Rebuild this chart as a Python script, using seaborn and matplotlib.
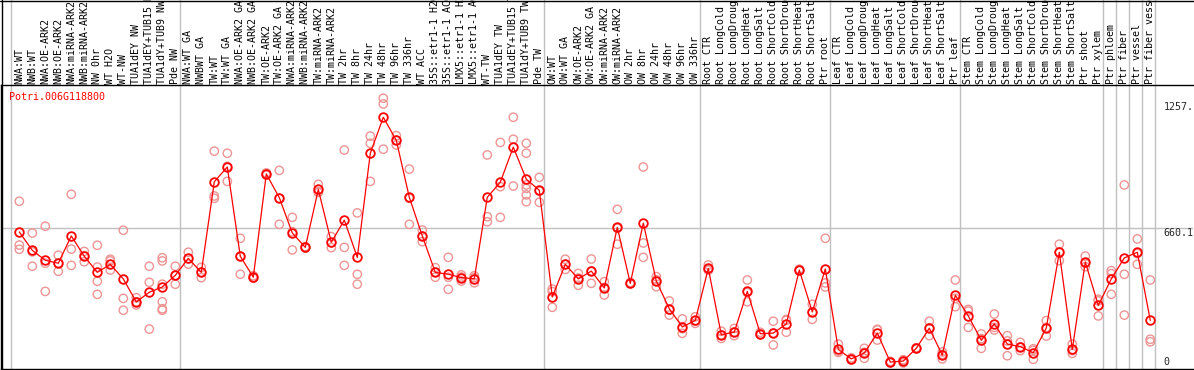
import matplotlib
matplotlib.use('Agg')
import matplotlib.pyplot as plt
import matplotlib.transforms as mtransforms
from matplotlib.lines import Line2D
import seaborn as sns
import pandas as pd

categories = [
    "NWA:WT", "NWB:WT", "NWA:OE-ARK2", "NWB:OE-ARK2", "NWA:miRNA-ARK2", "NWB:miRNA-ARK2",
    "NW 0hr", "WT H2O", "WT-NW", "TUA1dEY NW", "TUA1dEY+TUB15 NW", "TUA1dY+TUB9 NW", "Pde NW",
    "NWA:WT GA", "NWBWT GA", "TW:WT", "TW:WT GA", "NWA:OE-ARK2 GA", "NWB:OE-ARK2 GA",
    "TW:OE-ARK2", "TW:OE-ARK2 GA", "NWA:miRNA-ARK2 GA", "NWB:miRNA-ARK2 GA", "TW:miRNA-ARK2",
    "TW:miRNA-ARK2", "TW 2hr", "TW 8hr", "TW 24hr", "TW 48hr", "TW 96hr", "TW 336hr", "WT ACC",
    "35S::etr1-1 H2O", "35S::etr1-1 ACC", "LMX5::etr1-1 H2O", "LMX5::etr1-1 ACC", "WT-TW",
    "TUA1dEY TW", "TUA1dEY+TUB15 TW", "TUA1dY+TUB9 TW", "Pde TW",
    "OW:WT", "OW:WT GA", "OW:OE-ARK2", "OW:OE-ARK2 GA", "OW:miRNA-ARK2", "OW:miRNA-ARK2",
    "OW 2hr", "OW 8hr", "OW 24hr", "OW 48hr", "OW 96hr", "OW 336hr",
    "Root CTR", "Root LongCold", "Root LongDrought", "Root LongHeat", "Root LongSalt",
    "Root ShortCold", "Root ShortDrought", "Root ShortHeat", "Root ShortSalt", "Ptr root",
    "Leaf CTR", "Leaf LongCold", "Leaf LongDrought", "Leaf LongHeat", "Leaf LongSalt",
    "Leaf ShortCold", "Leaf ShortDrought", "Leaf ShortHeat", "Leaf ShortSalt", "Ptr leaf",
    "Stem CTR", "Stem LongCold", "Stem LongDrought", "Stem LongHeat", "Stem LongSalt",
    "Stem ShortCold", "Stem ShortDrought", "Stem ShortHeat", "Stem ShortSalt", "Ptr shoot",
    "Ptr xylem", "Ptr phloem", "Ptr fiber", "Ptr vessel", "Ptr fiber vessel",
]

means = [
    643, 556, 509, 495, 624, 528, 452, 490, 421, 312, 358, 383, 438,
    518, 452, 880, 950, 528, 429, 917, 805, 638, 570, 844, 594, 699, 523, 1015, 1185,
    1076, 807, 624, 452, 443, 427, 422, 807, 878, 1044, 892, 840,
    336, 490, 421, 458, 378, 665, 400, 685, 411, 280, 194, 225,
    471, 157, 170, 362, 162, 165, 208, 463, 265, 468,
    88, 43, 71, 165, 28, 33, 93, 188, 61, 344,
    246, 131, 209, 113, 101, 72, 189, 547, 88, 501,
    296, 421, 520, 547, 225,
]

replicates = [
    [788, 581, 561], [638, 481, 549], [670, 495, 362], [533, 457, 495], [821, 562, 485],
    [551, 502, 531], [580, 477, 410, 348], [514, 506, 463], [651, 329, 273], [332, 298, 313],
    [481, 405, 184], [521, 506, 396, 313, 280, 273], [481, 396, 437],
    [547, 491, 516], [476, 427, 453], [1025, 813, 802], [1015, 882, 953], [613, 443, 528],
    [436, 425, 426], [922, 912, 917], [934, 679, 802], [712, 558, 644], [574, 568, 568],
    [868, 830, 834], [621, 569, 592], [1030, 570, 485], [733, 443, 396], [1096, 1062, 882],
    [1275, 1248, 1034], [1098, 1054, 1076], [940, 679, 802], [652, 597, 623], [474, 429, 453],
    [523, 429, 372], [440, 411, 430], [436, 403, 427], [1007, 715, 691], [1066, 857, 712],
    [1185, 1081, 860], [1062, 1015, 865, 849, 818, 786], [901, 783, 836],
    [373, 361, 287], [514, 466, 490], [447, 391, 425], [515, 400, 459], [408, 345, 381],
    [750, 585, 660], [404, 398, 398], [950, 591, 523], [432, 384, 417], [317, 274, 250],
    [232, 164, 186], [242, 211, 222],
    [487, 462, 464], [140, 157, 174], [153, 170, 187], [416, 313, 357], [169, 160, 157],
    [221, 109, 165], [230, 169, 225], [467, 461, 461], [301, 230, 264], [613, 402, 383],
    [113, 77, 74], [48, 43, 38], [93, 46, 74], [183, 132, 180], [31, 24, 29],
    [39, 24, 36], [96, 91, 92], [221, 153, 190], [64, 43, 76], [416, 329, 290],
    [277, 192, 269], [161, 93, 139], [255, 180, 192], [153, 58, 128], [121, 82, 100],
    [91, 41, 84], [224, 151, 192], [585, 507, 549], [113, 69, 82], [529, 479, 495],
    [325, 246, 317], [460, 446, 348], [865, 443, 250], [610, 490, 541], [416, 136, 124],
]

group_breaks = [0, 13, 41, 53, 63, 73, 84, 85, 86, 87, 88]
ytick_values = [0, 660.1, 1257]
ytick_labels = ["0", "660.1", "1257."]
title = "Potri.006G118800"

sns.set_style("white")
plt.rcParams['font.family'] = ['DejaVu Sans Mono']

W, H = 1194, 370
fig = plt.figure(figsize=(W / 100, H / 100), dpi=100)
ax_l, ax_r, ax_t, ax_b = 1, 1193, 85, 369
ax = fig.add_axes([ax_l / W, (H - ax_b) / H, (ax_r - ax_l) / W, (ax_b - ax_t) / H])

px_per_cat = 13.0
x0_px = 19.3
ax.set_xlim((ax_l - x0_px) / px_per_cat, (ax_r - x0_px) / px_per_cat)
px_per_val = 0.2116
zero_px = 368.0
ax.set_ylim((zero_px - ax_b) / px_per_val, (zero_px - ax_t) / px_per_val)

df_mean = pd.DataFrame({"x": list(range(len(categories))), "y": means})
rx, ry = [], []
for i, reps in enumerate(replicates):
    for v in reps:
        rx.append(i)
        ry.append(v)
df_rep = pd.DataFrame({"x": rx, "y": ry})

# grid lines
ax.axhline(ytick_values[1], color="#C0C0C0", lw=1, zorder=1)
head_frac = 1 + ax_t / (ax_b - ax_t)
for n in group_breaks:
    ax.axvline(n - 0.66, ymin=0, ymax=head_frac, color="#C0C0C0", lw=1,
               clip_on=False, zorder=1)

sns.scatterplot(data=df_rep, x="x", y="y", ax=ax, marker="o", s=36,
                facecolors="none", edgecolor="#EE9494", linewidth=1.0, zorder=3,
                legend=False)
sns.lineplot(data=df_mean, x="x", y="y", ax=ax, color="#FF0000", linewidth=0.9,
             marker="o", markersize=6.2, markerfacecolor="none",
             markeredgecolor="#FF0000", markeredgewidth=1.3, zorder=4,
             estimator=None, legend=False)

ax.set_xticks([])
ax.set_yticks([])
ax.set_xlabel("")
ax.set_ylabel("")
for side in ["top", "bottom", "left"]:
    ax.spines[side].set_color("black")
    ax.spines[side].set_linewidth(1.0)
ax.spines["right"].set_visible(False)

trans = mtransforms.blended_transform_factory(ax.transData, ax.transAxes)
for i, lab in enumerate(categories):
    ax.text(i, 1 + 1.5 / (ax_b - ax_t), lab, transform=trans, rotation=90,
            ha="center", va="bottom", fontsize=7.2, color="black", clip_on=False)

ax.text(-0.77, (ax_b - 96.7) / (ax_b - ax_t), title, transform=trans, color="#FF0000",
        ha="left", va="center", fontsize=7.2)

lab_x = (1163.3 - x0_px) / px_per_cat
for v, lab in zip(ytick_values, ytick_labels):
    if v == 0:
        ax.text(lab_x, v + 6, lab, ha="left", va="bottom", fontsize=7.2)
    else:
        ax.text(lab_x, v, lab, ha="left", va="top", fontsize=7.2)

fig.add_artist(Line2D([0, 1], [1 - 0.5 / H, 1 - 0.5 / H], transform=fig.transFigure,
                      color="black", lw=1))
fig.add_artist(Line2D([1.5 / W, 1.5 / W], [0, 1], transform=fig.transFigure,
                      color="black", lw=1))

fig.savefig("out.png", dpi=100)
